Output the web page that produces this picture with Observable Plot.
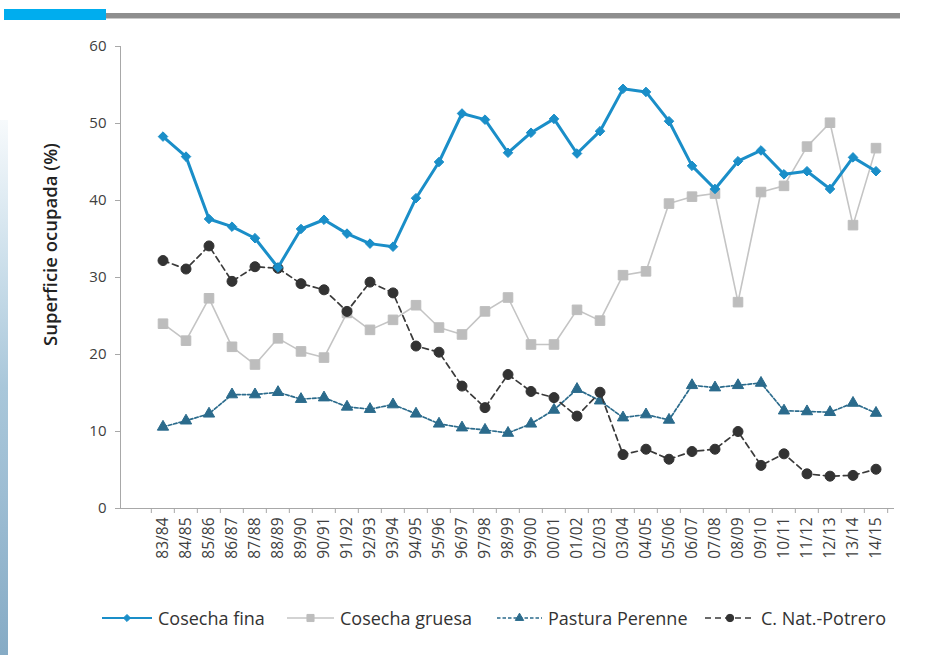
<!DOCTYPE html>
<html>
<head>
<meta charset="utf-8">
<script src="https://cdn.jsdelivr.net/npm/d3@7"></script>
<script src="https://cdn.jsdelivr.net/npm/@observablehq/plot@0.6"></script>
<style>
  html, body { margin: 0; padding: 0; background: #fff; }
  #page { position: relative; width: 928px; height: 655px; overflow: hidden; font-family: "Open Sans", sans-serif; background: #fff; }
  .bar-blue { position: absolute; left: 4px; top: 9px; width: 102px; height: 11px; background: #00adee; }
  .bar-gray { position: absolute; left: 106px; top: 13px; width: 794px; height: 5px; background: #8e8e8e; border-bottom: 1px solid #c9c9c9; }
  .edge { position: absolute; left: 0; top: 120px; width: 8px; height: 535px;
          background: linear-gradient(180deg, rgba(214,230,240,0.2) 0%, #cfe1ec 25%, #a9c7da 50%, #9dbdd3 70%, #86abc5 100%); }
  #chart { position: absolute; left: 0; top: 0; }
  #legend { position: absolute; left: 0; top: 605px; width: 928px; height: 26px; }
  .item { position: absolute; top: 0; height: 26px; display: flex; align-items: center; font-size: 18px; color: #333; white-space: nowrap; }
  .item svg { display: block; margin-right: 6px; }
</style>
</head>
<body>
<div id="page">
  <div class="bar-blue"></div>
  <div class="bar-gray"></div>
  <div class="edge"></div>
  <div id="chart"></div>
  <div id="legend"></div>
</div>
<script>
// Campaigns (agricultural seasons)
const seasons = ["83/84","84/85","85/86","86/87","87/88","88/89","89/90","90/91","91/92","92/93",
  "93/94","94/95","95/96","96/97","97/98","98/99","99/00","00/01","01/02","02/03","03/04","04/05",
  "05/06","06/07","07/08","08/09","09/10","10/11","11/12","12/13","13/14","14/15"];

// Occupied area (%) per land use
const cosechaFina = [48.3, 45.7, 37.6, 36.6, 35.1, 31.3, 36.3, 37.5, 35.7, 34.4, 34.0, 40.3, 45.0,
  51.3, 50.5, 46.2, 48.8, 50.6, 46.1, 49.0, 54.5, 54.1, 50.3, 44.5, 41.5, 45.1, 46.5, 43.4, 43.8,
  41.5, 45.6, 43.8];
const cosechaGruesa = [24.0, 21.8, 27.3, 21.0, 18.7, 22.1, 20.4, 19.6, 25.4, 23.2, 24.5, 26.4, 23.5,
  22.6, 25.6, 27.4, 21.3, 21.3, 25.8, 24.4, 30.3, 30.8, 39.6, 40.5, 40.9, 26.8, 41.1, 41.9, 47.0,
  50.1, 36.8, 46.8];
const pasturaPerenne = [10.6, 11.4, 12.3, 14.8, 14.8, 15.1, 14.2, 14.4, 13.2, 12.9, 13.5, 12.3, 11.0,
  10.5, 10.2, 9.8, 11.0, 12.8, 15.5, 14.0, 11.8, 12.2, 11.5, 16.0, 15.7, 16.0, 16.3, 12.7, 12.6,
  12.5, 13.7, 12.4];
const campoNatural = [32.2, 31.1, 34.1, 29.5, 31.4, 31.2, 29.2, 28.4, 25.6, 29.4, 28.0, 21.1, 20.3,
  15.9, 13.1, 17.4, 15.2, 14.4, 12.0, 15.1, 7.0, 7.7, 6.4, 7.4, 7.7, 10.0, 5.6, 7.1, 4.5, 4.2,
  4.3, 5.1];

const yTicks = [0, 10, 20, 30, 40, 50, 60];
const yLabel = "Superficie ocupada (%)";
const seriesNames = ["Cosecha fina", "Cosecha gruesa", "Pastura Perenne", "C. Nat.-Potrero"];

const rows = (values) => values.map((v, i) => ({season: seasons[i], value: v}));
const fina = rows(cosechaFina);
const gruesa = rows(cosechaGruesa);
const pastura = rows(pasturaPerenne);
const natural = rows(campoNatural);

const style = {
  fina:    {color: "#1a8ec8", width: 3,   dash: null,    symbol: "diamond2", r: 4.3},
  gruesa:  {color: "#c4c4c4", width: 1.6, dash: null,    symbol: "square",   r: 5.4, marker: "#bdbdbd"},
  pastura: {color: "#2b6b8c", width: 1.7, dash: "3.5,2", symbol: "triangle", r: 4.2},
  natural: {color: "#3a3a3a", width: 1.7, dash: "6,4",   symbol: "circle",   r: 5,   marker: "#333333"}
};

const xLeft = 145.3, xRight = 891.7;
const bw = (xRight - xLeft) / seasons.length;

function series(data, s) {
  const mc = s.marker || s.color;
  return [
    Plot.line(data, {x: "season", y: "value", stroke: s.color, strokeWidth: s.width, strokeDasharray: s.dash, curve: "linear"}),
    Plot.dot(data, {x: "season", y: "value", symbol: s.symbol, r: s.r, fill: mc, stroke: mc, strokeWidth: 1})
  ];
}

const chart = Plot.plot({
  width: 928,
  height: 585,
  marginLeft: 120,
  marginRight: 35,
  marginTop: 46,
  marginBottom: 77,
  style: {fontFamily: '"Open Sans", sans-serif', background: "transparent", overflow: "visible"},
  x: {type: "band", domain: seasons, range: [xLeft, xRight], padding: 0},
  y: {domain: [0, 60]},
  marks: [
    Plot.frame({anchor: "left", stroke: "#a8a8a8"}),
    Plot.frame({anchor: "bottom", stroke: "#a8a8a8"}),
    Plot.axisY({ticks: yTicks, tickSize: 5, tickPadding: 9, stroke: "#a8a8a8", fill: "#404040", fontSize: 15, label: null}),
    Plot.axisX({ticks: seasons, tickSize: 5, dx: -bw / 2, tickFormat: () => "", stroke: "#a8a8a8", label: null}),
    Plot.axisX({ticks: seasons.slice(-1), tickSize: 5, dx: bw / 2, tickFormat: () => "", stroke: "#a8a8a8", label: null}),
    Plot.axisX({ticks: seasons, tickSize: 0, tickPadding: 9, tickRotate: -90, fill: "#404040", fontSize: 15.5, label: null}),
    Plot.text([yLabel], {text: d => d, frameAnchor: "left", textAnchor: "middle", dx: -69, dy: -33, rotate: -90,
      fontSize: 18.5, fontWeight: 600, fill: "#222"}),
    ...series(gruesa, style.gruesa),
    ...series(pastura, style.pastura),
    ...series(natural, style.natural),
    ...series(fina, style.fina)
  ]
});
document.getElementById("chart").append(chart);

// Legend row below the chart
const legendItems = [
  {name: seriesNames[0], s: style.fina,    left: 102, w: 50},
  {name: seriesNames[1], s: style.gruesa,  left: 287, w: 47},
  {name: seriesNames[2], s: style.pastura, left: 497, w: 45},
  {name: seriesNames[3], s: style.natural, left: 705, w: 50}
];
const legend = d3.select("#legend");
const symbolMap = {diamond2: d3.symbolDiamond2, square: d3.symbolSquare, triangle: d3.symbolTriangle, circle: d3.symbolCircle};
for (const it of legendItems) {
  const item = legend.append("div").attr("class", "item").style("left", it.left + "px");
  const svg = item.append("svg").attr("width", it.w).attr("height", 16);
  svg.append("line").attr("x1", 0).attr("x2", it.w).attr("y1", 8).attr("y2", 8)
    .attr("stroke", it.s.color).attr("stroke-width", Math.min(it.s.width, 2))
    .attr("stroke-dasharray", it.s.dash);
  const mc = it.s.marker || it.s.color;
  svg.append("path").attr("transform", `translate(${it.w / 2},8)`)
    .attr("d", d3.symbol(symbolMap[it.s.symbol], Math.PI * it.s.r * it.s.r * 0.55)())
    .attr("fill", mc).attr("stroke", mc);
  item.append("span").text(it.name);
}
</script>
</body>
</html>
